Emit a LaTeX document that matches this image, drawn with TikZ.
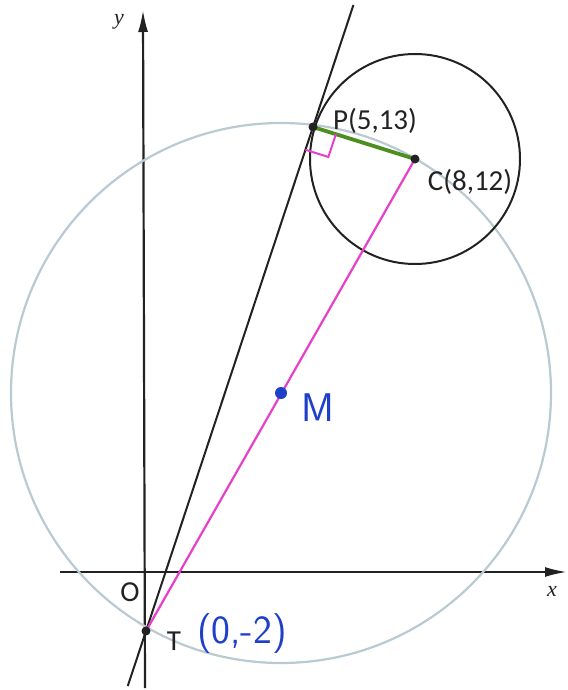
\documentclass[tikz,border=0pt]{standalone}
\usepackage{fontspec}
\setmainfont{Carlito}
\newfontfamily\axfont{Liberation Serif}
\usetikzlibrary{arrows.meta,calc}
\definecolor{bigc}{HTML}{B9CAD3}
\definecolor{pinkl}{HTML}{E83FCB}
\definecolor{greenl}{HTML}{4C8F1E}
\definecolor{handblue}{HTML}{1E3FC8}
\definecolor{ink}{HTML}{222222}
\tikzset{
  axis/.style={line width=2.2pt, draw=ink, -{Latex[length=22pt,width=10pt]}},
  blk/.style={line width=2pt, draw=ink},
  pt/.style={circle, fill=ink, inner sep=0pt, minimum size=9pt},
  lbl/.style={font=\fontsize{29}{31}\selectfont, text=ink, inner sep=1pt},
  axl/.style={font=\fontsize{22}{24}\selectfont\axfont\itshape, text=ink},
  hand/.style={font=\fontsize{40}{42}\selectfont\sffamily, text=handblue}
}
\begin{document}
\begin{tikzpicture}[x=1pt,y=-1pt]
\useasboundingbox (0,0) rectangle (567,690);
% points
\coordinate (T) at (146,631);
\coordinate (P) at (313,127);
\coordinate (C) at (415,159);
\coordinate (M) at (281,393);
% axes
\coordinate (yb) at (145,688);
\coordinate (yt) at (143,10);
\coordinate (xl) at (60,572);
\coordinate (xr) at (567,572);
\draw[axis] (yb) -- (yt);
\draw[axis] (xl) -- (xr);
\node[axl] (ylab) at (119,22) {y};
\node[axl] (xlab) at (552,591) {x};
\node[lbl] (O) at (130,592) {O};
% big circle
\draw[bigc, line width=2.2pt] (M) circle[radius=270];
% small circle
\draw[blk] (C) circle[radius=105];
% tangent line
\coordinate (L1) at ($(T)!-0.109!(P)$);
\coordinate (L2) at ($(T)!1.242!(P)$);
\draw[blk] (L1) -- (L2);
% pink and green
\draw[pinkl, line width=2.2pt] (T) -- (C);
\draw[greenl, line width=3.8pt] (P) -- (C);
% right angle
\coordinate (ra1) at ($(P)!24pt!(T)$);
\coordinate (ra3) at ($(P)!24pt!(C)$);
\coordinate (ra2) at ($(ra1)+(ra3)-(P)$);
\draw[pinkl, line width=2pt] (ra1) -- (ra2) -- (ra3);
% points
\node[pt] (Tn) at (T) {};
\node[pt] (Pn) at (P) {};
\node[pt] (Cn) at (C) {};
\node[circle, fill=handblue, inner sep=0pt, minimum size=12pt] (Mn) at (M) {};
% labels
\node[lbl] (Pl) at (375,121) {P(5,13)};
\node[lbl] (Cl) at (470,182) {C(8,12)};
\node[lbl] (Tl) at (174,641) {T};
\node[hand] (Tc) at (242,634) {(0,-2)};
\node[hand] (Ml) at (318,408) {M};
\end{tikzpicture}
\end{document}
